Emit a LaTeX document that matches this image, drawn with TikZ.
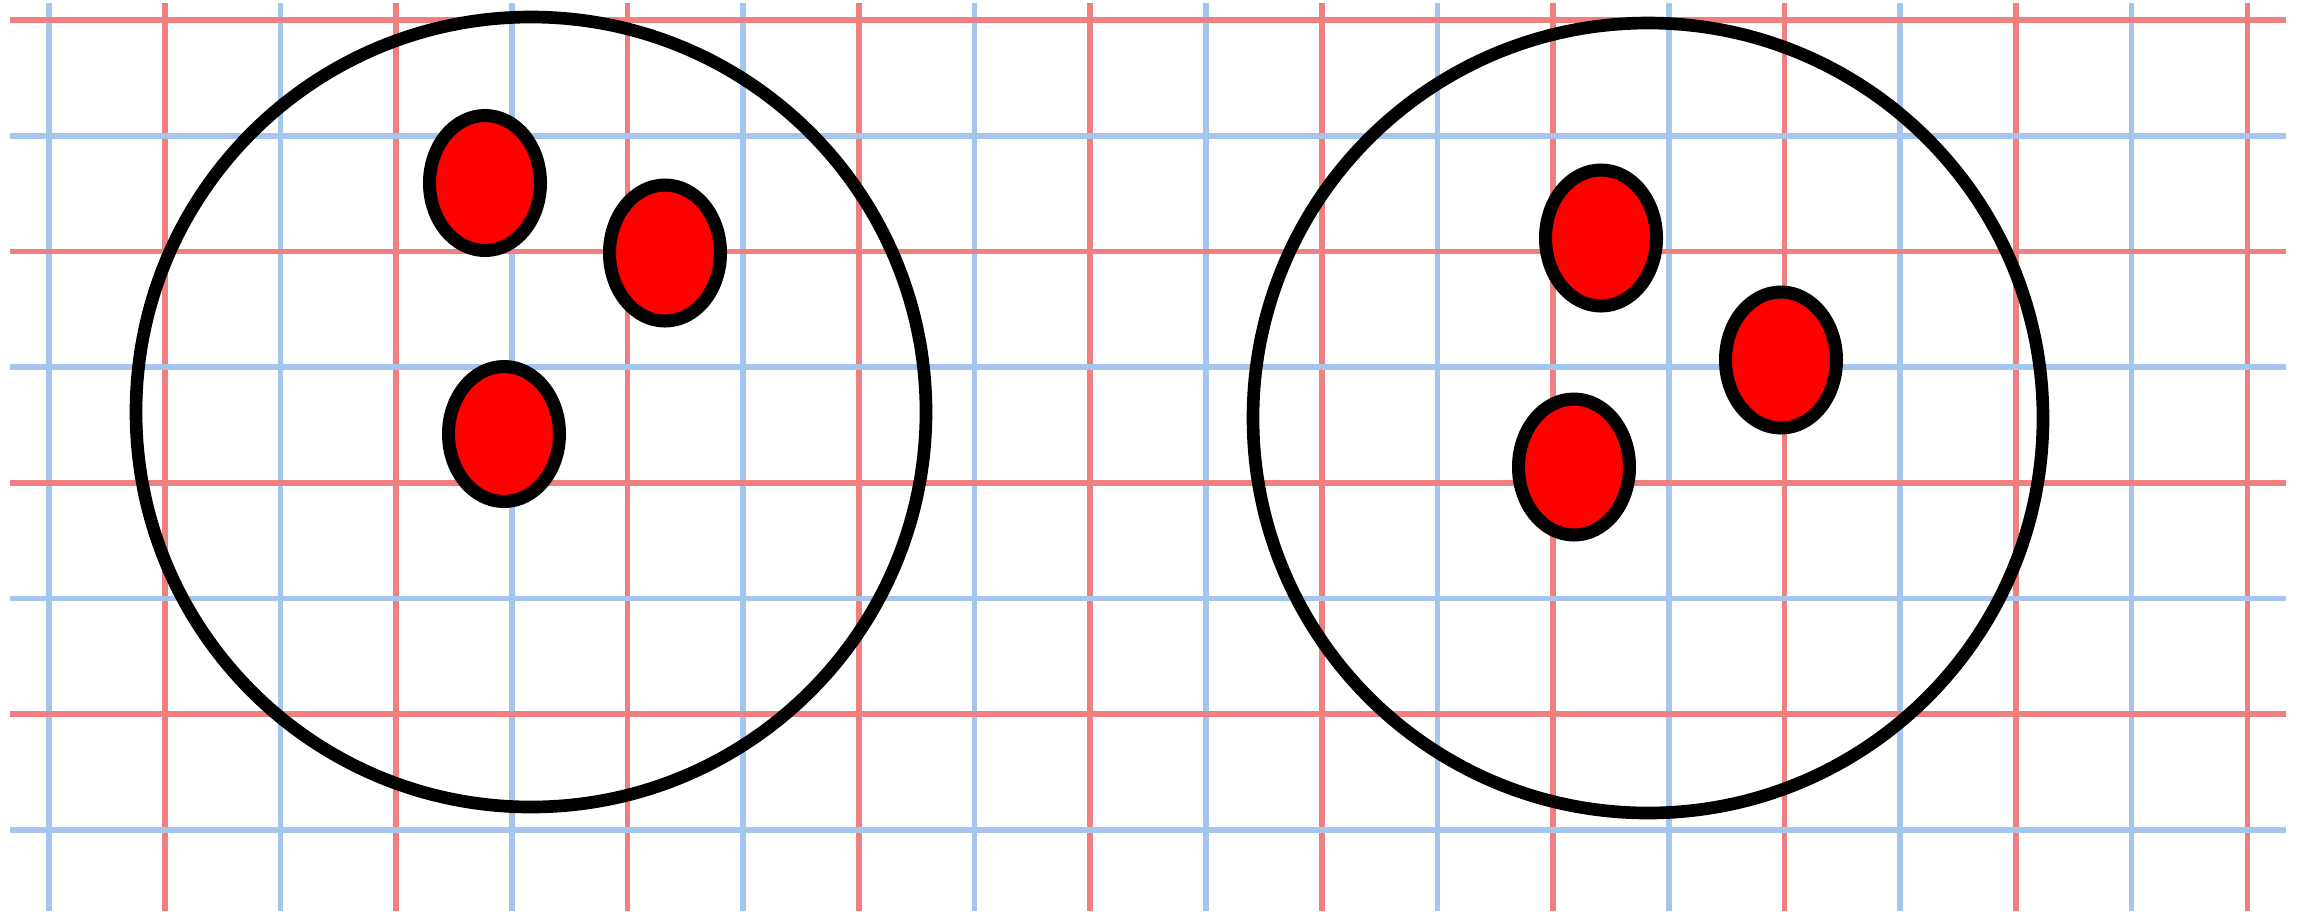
\documentclass[tikz,border=0pt]{standalone}
\usepackage{xcolor}
\usepackage{tikz}

\definecolor{gridred}{RGB}{240,128,128}
\definecolor{gridblue}{RGB}{164,198,238}

\begin{document}
\begin{tikzpicture}[x=0.01cm, y=-0.01cm,
    redline/.style={draw=gridred, line width=1.6pt},
    blueline/.style={draw=gridblue, line width=1.6pt},
    ring/.style={draw=black, line width=3.6pt},
    dot/.style={draw=black, fill=red, line width=3.7pt}
]
    \useasboundingbox (0,0) rectangle (2308,911);

    % Grid: vertical lines
    \foreach \i in {0,...,9} {
        \draw[blueline] ({49+231.4*\i},3) -- ({49+231.4*\i},911);
        \draw[redline] ({164.7+231.4*\i},3) -- ({164.7+231.4*\i},911);
    }
    % Grid: horizontal lines
    \foreach \j in {0,...,3} {
        \draw[redline] (10,{20+231.4*\j}) -- (2286,{20+231.4*\j});
        \draw[blueline] (10,{135.7+231.4*\j}) -- (2286,{135.7+231.4*\j});
    }

    % Left dish
    \draw[ring] (531,412) circle [radius=395];
    \draw[dot] (485,183) ellipse [x radius=55.5, y radius=67.5];
    \draw[dot] (665,253) ellipse [x radius=55.5, y radius=68];
    \draw[dot] (504,434) ellipse [x radius=55.5, y radius=67.5];

    % Right dish
    \draw[ring] (1648,418) circle [radius=395];
    \draw[dot] (1601,238) ellipse [x radius=55.5, y radius=68];
    \draw[dot] (1781,360) ellipse [x radius=55.5, y radius=68];
    \draw[dot] (1574,467) ellipse [x radius=55.5, y radius=68];

\end{tikzpicture}
\end{document}
